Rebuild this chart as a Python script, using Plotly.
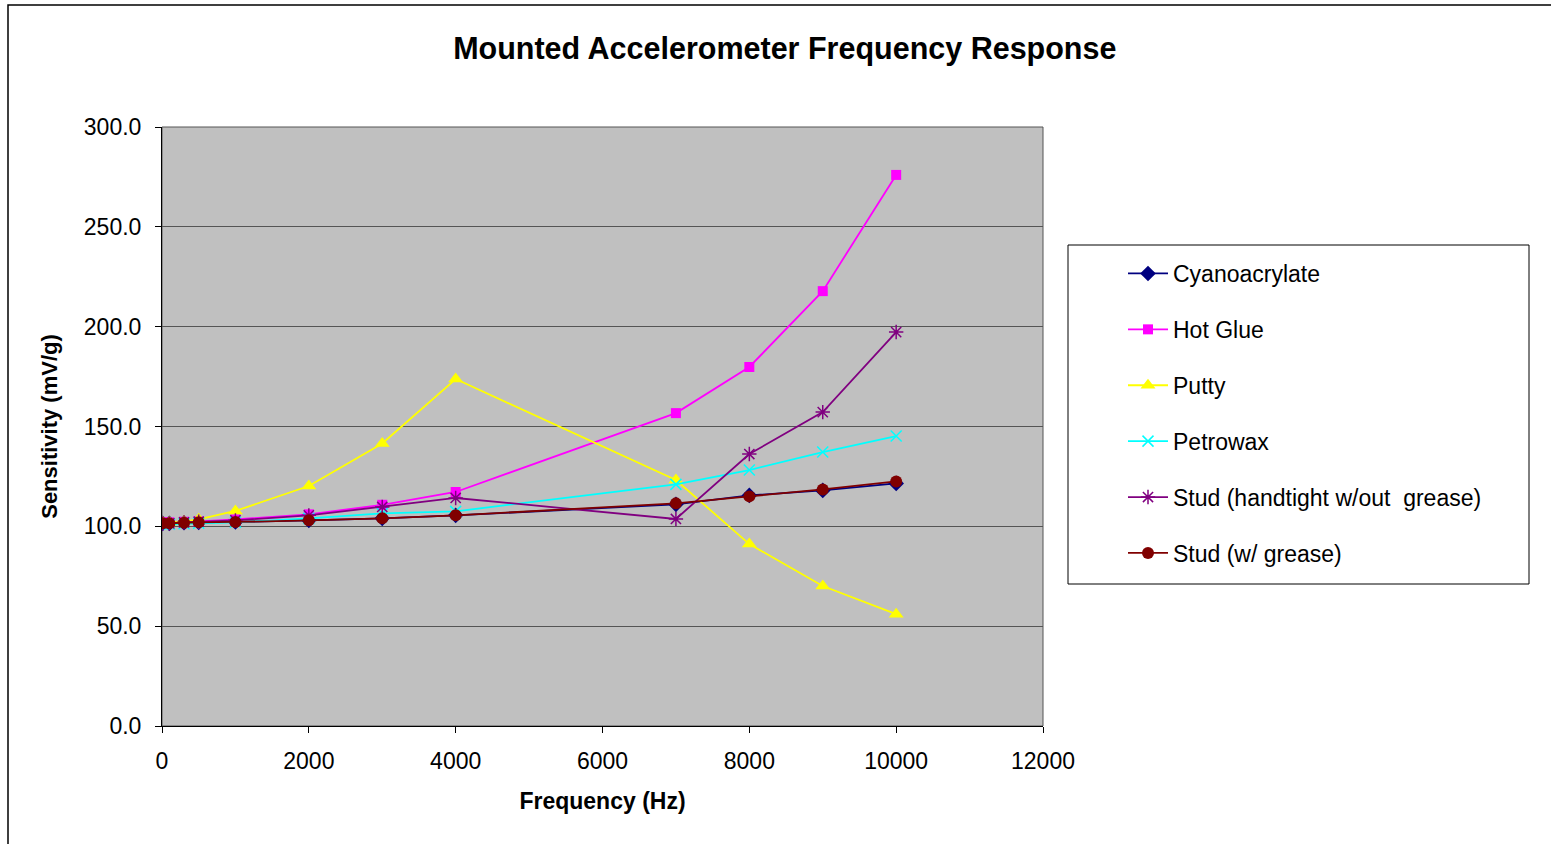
import plotly.graph_objects as go

freq = [10, 100, 300, 500, 1000, 2000, 3000, 4000, 7000, 8000, 9000, 10000]

cyanoacrylate = [101.5, 101.5, 101.8, 102.0, 102.2, 103.0, 104.0, 105.5, 111.0, 115.5, 118.0, 121.5]
hot_glue      = [102.0, 102.0, 102.3, 102.5, 103.5, 106.0, 110.8, 117.2, 156.7, 179.8, 217.8, 276.0]
putty         = [102.0, 102.0, 102.5, 103.5, 107.7, 120.2, 141.5, 173.8, 123.2, 91.1, 70.1, 56.0]
petrowax      = [101.0, 101.0, 101.3, 101.5, 102.0, 104.0, 106.5, 107.5, 121.0, 128.2, 137.2, 145.2]
stud_handtight = [101.5, 101.5, 102.0, 102.3, 103.0, 105.5, 109.7, 114.2, 103.7, 136.2, 157.2, 197.3]
stud_grease   = [101.5, 101.5, 101.8, 102.0, 102.2, 103.0, 104.0, 105.5, 111.5, 115.0, 118.5, 122.5]

series = [
    ("Cyanoacrylate", cyanoacrylate, "#000080", dict(symbol="diamond", size=12)),
    ("Hot Glue", hot_glue, "#FF00FF", dict(symbol="square", size=10)),
    ("Putty", putty, "#FFFF00", dict(symbol="triangle-up", size=13)),
    ("Petrowax", petrowax, "#00FFFF", dict(symbol="x-thin-open", size=11, line=dict(width=1.5, color="#00FFFF"))),
    ("Stud (handtight w/out  grease)", stud_handtight, "#800080", dict(symbol="asterisk-open", size=12, line=dict(width=1.5, color="#800080"))),
    ("Stud (w/ grease)", stud_grease, "#800000", dict(symbol="circle", size=12)),
]

fig = go.Figure()
for i, (name, vals, color, mk) in enumerate(series):
    m = dict(color=color)
    m.update(mk)
    fig.add_trace(go.Scatter(
        x=freq, y=vals, name=name, mode="lines+markers",
        line=dict(color=color, width=1.8), marker=m,
        legendgroup=f"g{i}",
    ))

L, R, T, B = 162, 1043, 127, 726
W, H = 1551, 844
pw, ph = R - L, B - T

def px_x(px):
    return (px - L) / pw

def px_y(py):
    return (B - py) / ph

fig.update_layout(
    width=W, height=H,
    margin=dict(l=L, r=W - R, t=T, b=H - B),
    paper_bgcolor="white",
    plot_bgcolor="#C0C0C0",
    font=dict(family="Liberation Sans, Arial, sans-serif", color="black", size=23),
    title=dict(text="<b>Mounted Accelerometer Frequency Response</b>",
               x=0.506, xanchor="center", y=1 - 48 / H, yanchor="middle",
               font=dict(size=30.5)),
    xaxis=dict(range=[0, 12000], dtick=2000, tickformat="d", showgrid=False, zeroline=False,
               showline=True, linecolor="black", linewidth=1,
               ticks="outside", ticklen=6, tickcolor="black",
               ticklabelstandoff=8,
               tickfont=dict(size=23),
               title=dict(text="<b>Frequency (Hz)</b>", font=dict(size=23), standoff=20)),
    yaxis=dict(range=[0, 300], dtick=50, tickformat=".1f", showgrid=True,
               gridcolor="#555555", gridwidth=1, zeroline=False,
               showline=True, linecolor="black", linewidth=1,
               ticks="outside", ticklen=6, tickcolor="black",
               ticklabelstandoff=9,
               tickfont=dict(size=23),
               title=dict(text="<b>Sensitivity (mV/g)</b>", font=dict(size=22), standoff=20)),
    showlegend=True,
    legend=dict(x=px_x(1123), y=px_y(252), xanchor="left", yanchor="top",
                bgcolor="rgba(0,0,0,0)", borderwidth=0,
                font=dict(size=23), tracegroupgap=23, itemwidth=40),
    shapes=[
        dict(type="rect", xref="paper", yref="paper", x0=0, x1=1, y0=0, y1=1,
             line=dict(color="#555555", width=1), layer="below"),
        dict(type="rect", xref="paper", yref="paper",
             x0=px_x(1068), x1=px_x(1529), y0=px_y(584), y1=px_y(245),
             line=dict(color="black", width=1), fillcolor="white", layer="below"),
        dict(type="rect", xref="paper", yref="paper",
             x0=px_x(8), x1=px_x(1560), y0=px_y(860), y1=px_y(5),
             line=dict(color="black", width=1.5)),
    ],
)

fig.write_html("out.html")
